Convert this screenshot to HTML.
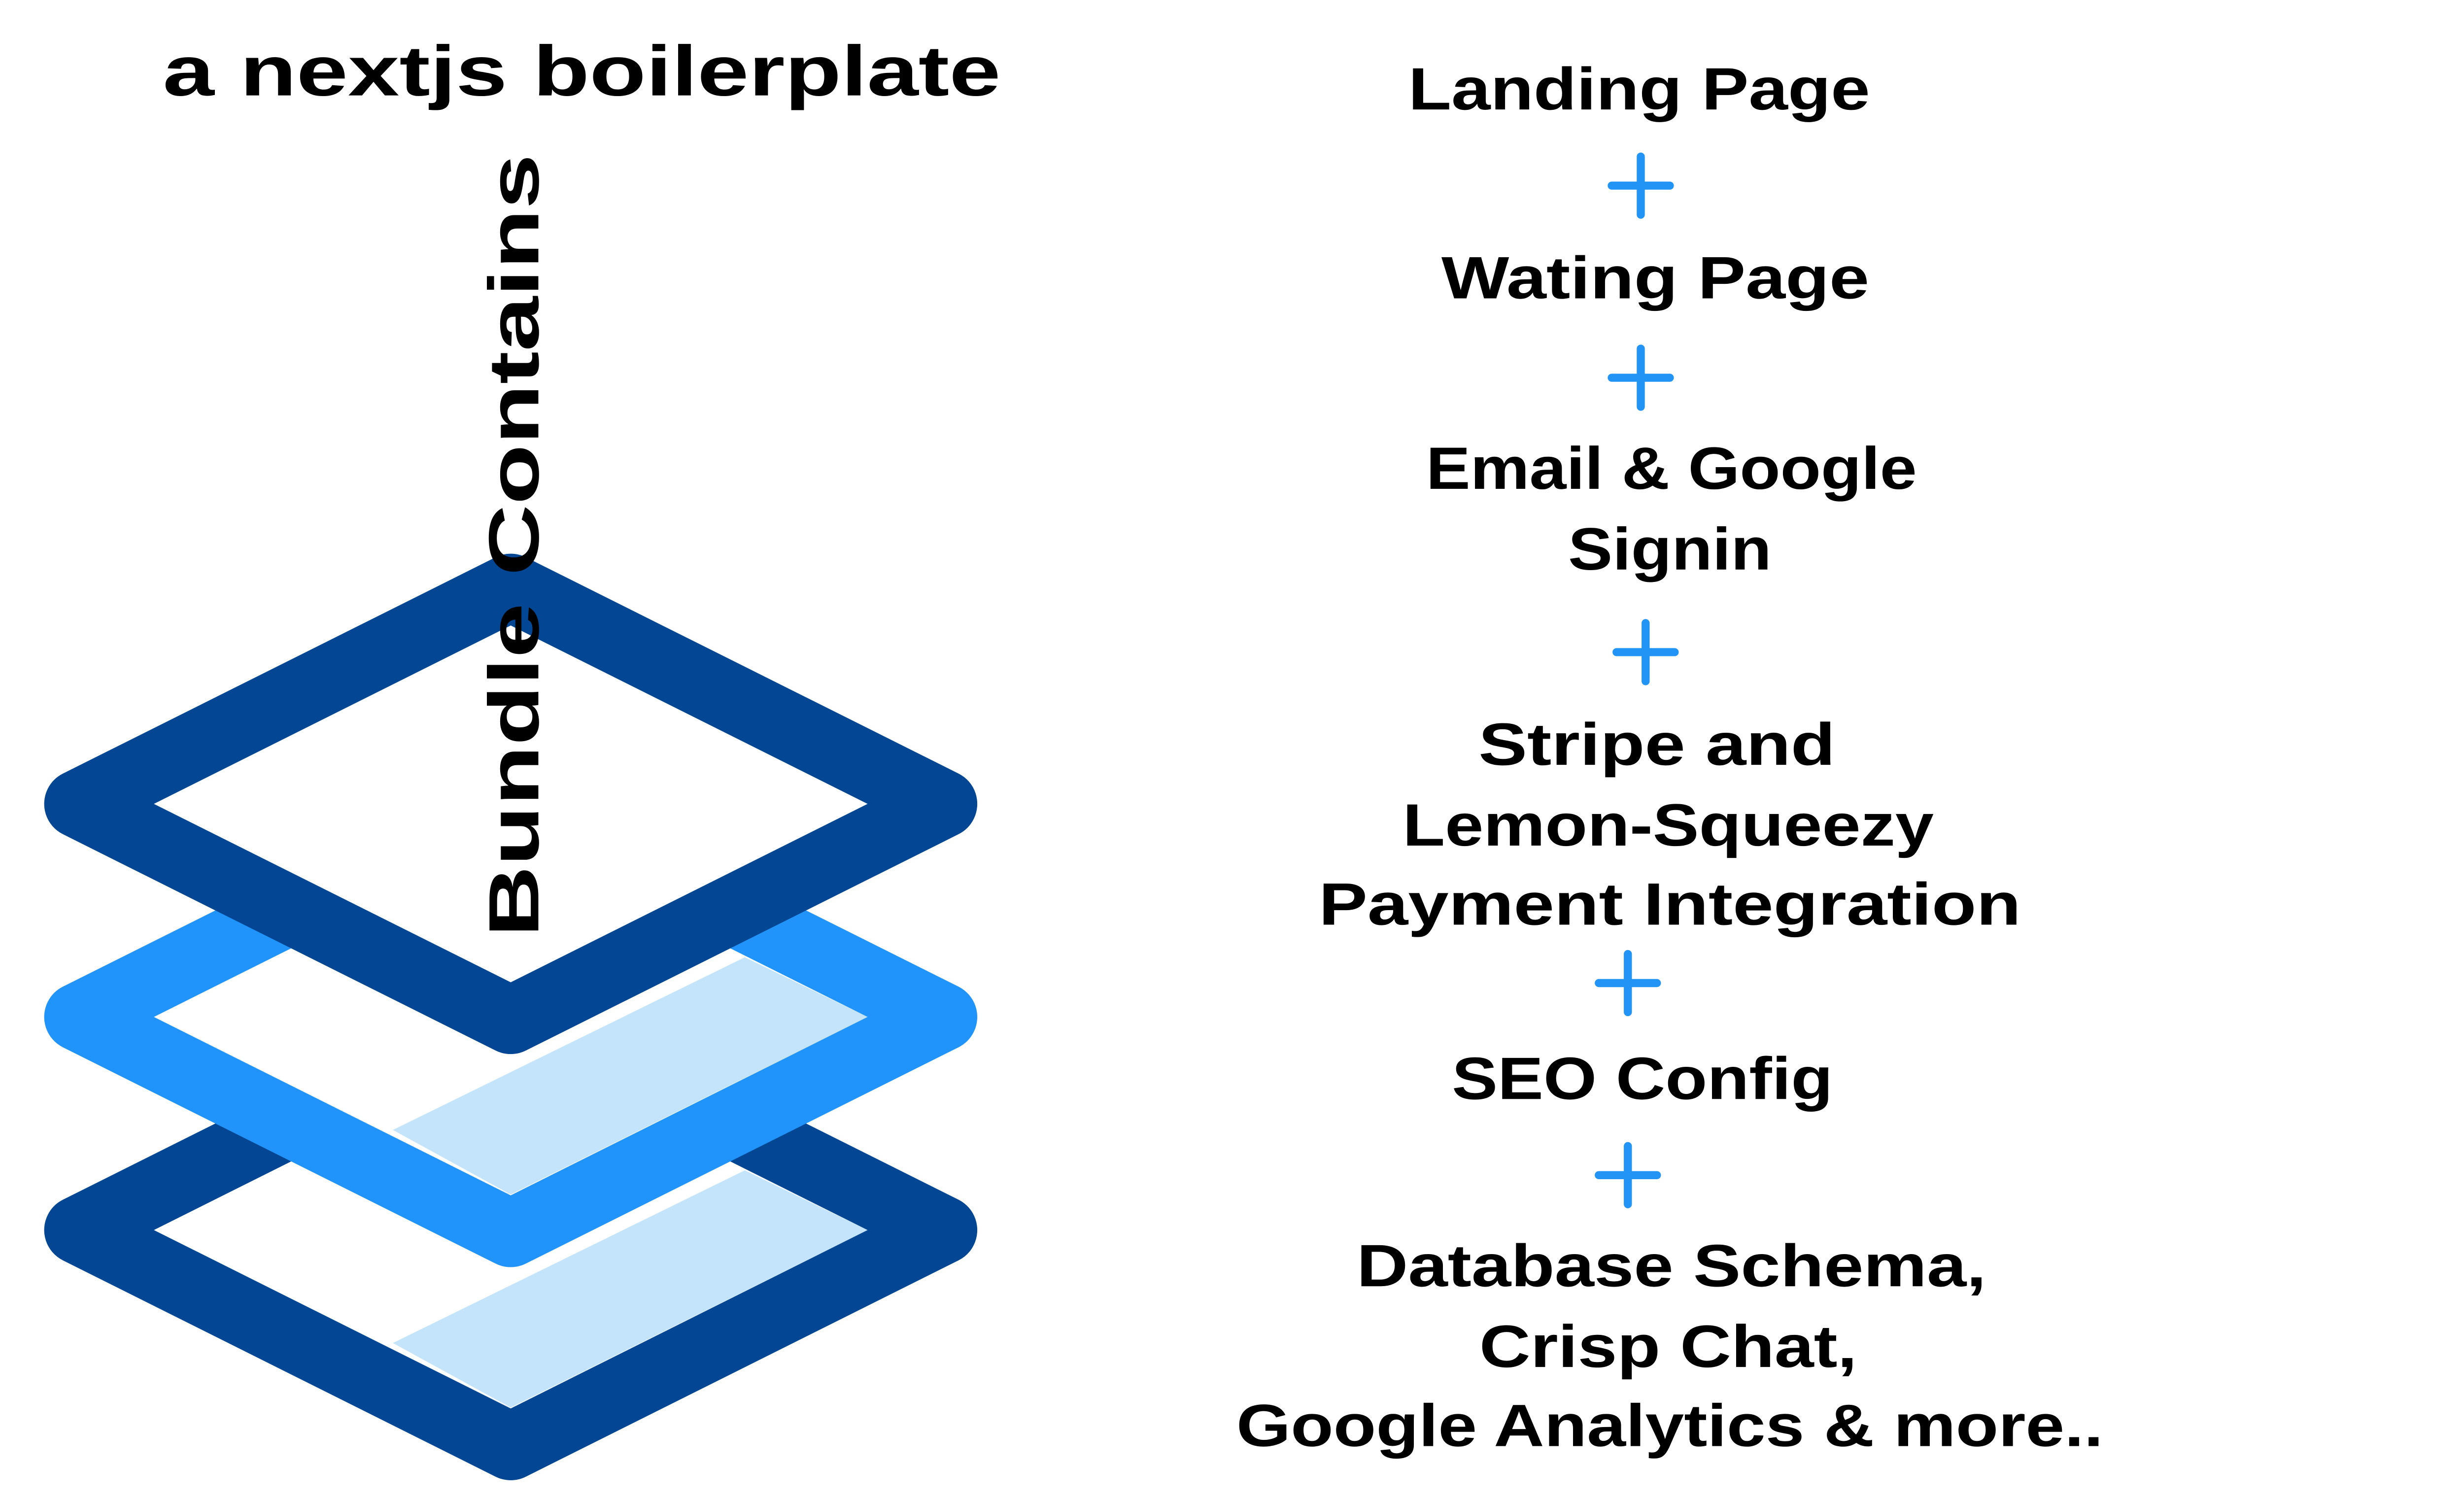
<!DOCTYPE html>
<html><head><meta charset="utf-8"><style>
html,body{margin:0;padding:0;background:#fff;}
svg{display:block;}
text{font-family:"Liberation Sans",sans-serif;font-weight:bold;fill:#000;}
</style></head><body>
<svg width="5080" height="3040" viewBox="0 0 1550 928" xmlns="http://www.w3.org/2000/svg">
<rect width="1550" height="928" fill="#fff"/>
<!-- bottom layer -->
<g transform="translate(0,264)">
<polygon points="48,498 316,364 584,498 316,632" fill="#fff"/>
<polygon points="243,568 461,461 537,498 316,608" fill="#C4E4FC"/>
<polygon points="48,498 316,364 584,498 316,632" fill="none" stroke="#024694" stroke-width="42" stroke-linejoin="round"/>
</g>
<!-- middle layer -->
<g transform="translate(0,132)">
<polygon points="48,498 316,364 584,498 316,632" fill="#fff"/>
<polygon points="243,568 461,461 537,498 316,608" fill="#C4E4FC"/>
<polygon points="48,498 316,364 584,498 316,632" fill="none" stroke="#2194FC" stroke-width="42" stroke-linejoin="round"/>
</g>
<!-- top layer -->
<polygon points="48,498 316,364 584,498 316,632" fill="#fff" stroke="#024694" stroke-width="42" stroke-linejoin="round"/>

<text x="360" y="44" font-size="44" text-anchor="middle" dominant-baseline="central" textLength="519" lengthAdjust="spacingAndGlyphs">a nextjs boilerplate</text>
<text transform="translate(318,338) rotate(-90)" x="0" y="0" font-size="44" text-anchor="middle" dominant-baseline="central" textLength="485" lengthAdjust="spacingAndGlyphs">Bundle Contains</text>

<g font-size="37" text-anchor="middle" dominant-baseline="central">
<text x="1015" y="55" textLength="286" lengthAdjust="spacingAndGlyphs">Landing Page</text>
<text x="1025" y="172" textLength="265" lengthAdjust="spacingAndGlyphs">Wating Page</text>
<text x="1035" y="290" textLength="304" lengthAdjust="spacingAndGlyphs">Email &amp; Google</text>
<text x="1034" y="340" textLength="126" lengthAdjust="spacingAndGlyphs">Signin</text>
<text x="1026" y="461" textLength="221" lengthAdjust="spacingAndGlyphs">Stripe and</text>
<text x="1033" y="511" textLength="329" lengthAdjust="spacingAndGlyphs">Lemon-Squeezy</text>
<text x="1034" y="560" textLength="435" lengthAdjust="spacingAndGlyphs">Payment Integration</text>
<text x="1017" y="668" textLength="236" lengthAdjust="spacingAndGlyphs">SEO Config</text>
<text x="1035" y="784" textLength="390" lengthAdjust="spacingAndGlyphs">Database Schema,</text>
<text x="1033" y="834" textLength="234" lengthAdjust="spacingAndGlyphs">Crisp Chat,</text>
<text x="1034" y="883" textLength="537" lengthAdjust="spacingAndGlyphs">Google Analytics &amp; more..</text>
</g>
<g stroke="#2294F6" stroke-width="5" stroke-linecap="round">
<path d="M998 115h36M1016 97v36"/>
<path d="M998 234h36M1016 216v36"/>
<path d="M1001 404h36M1019 386v36"/>
<path d="M990 609h36M1008 591v36"/>
<path d="M990 728h36M1008 710v36"/>
</g>
</svg>
</body></html>
